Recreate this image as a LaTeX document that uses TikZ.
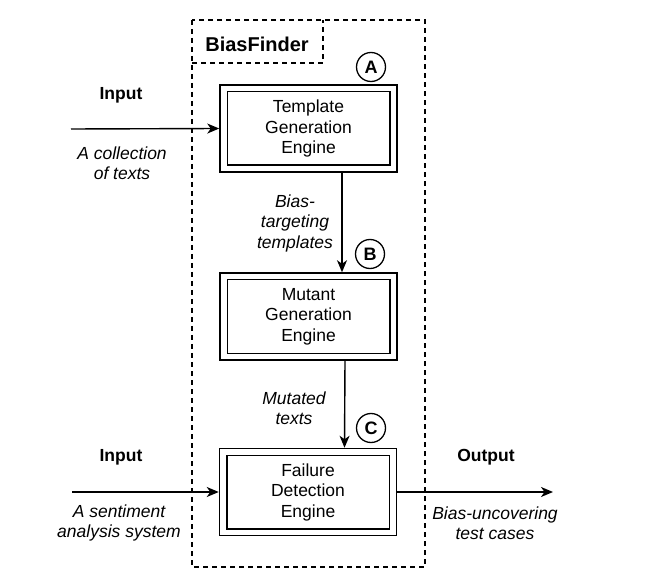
\documentclass[tikz,border=0pt]{standalone}
\usepackage{fontspec}
\setmainfont{Liberation Sans}
\usetikzlibrary{arrows.meta,calc}
\begin{document}
\begin{tikzpicture}[x=1pt,y=-1pt,
  txt/.style={font=\fontsize{17.5}{20.5}\selectfont,align=center,inner sep=0pt},
  engine/.style={draw,line width=1.5pt,minimum width=177pt,minimum height=87pt,txt},
  lab/.style={txt,font=\fontsize{17.5}{20.5}\selectfont\itshape},
  head/.style={txt,font=\fontsize{17.5}{20.5}\selectfont\bfseries},
  marker/.style={draw,circle,line width=1.3pt,minimum size=29pt,inner sep=0pt,font=\fontsize{18}{20}\selectfont\bfseries},
  arr/.style={line width=1.4pt,-{Stealth[length=12pt,width=10pt,inset=3.5pt]}},
  frame/.style={line width=1.2pt,dash pattern=on 5pt off 4pt}]
\useasboundingbox (0,0) rectangle (651,588);
% outer dashed frame
\draw[frame] (192,20) rectangle (425,567);
\draw[frame] (192,63) -- (323,63) -- (323,20);
\node[head,font=\fontsize{20}{22}\selectfont\bfseries] (title) at (257,44) {BiasFinder};
% engines
\node[engine] (A) at (308.5,128.5) {Template\\Generation\\Engine};
\node[engine] (B) at (308.5,316.5) {Mutant\\Generation\\Engine};
\node[engine] (C) at (308,492) {Failure\\Detection\\Engine};
\foreach \n in {A,B,C}{
  \draw[line width=1.5pt] ([shift={(8,7.5)}]\n.north west) rectangle ([shift={(-8,-7.5)}]\n.south east);
}
% markers
\node[marker] (mA) at (371,67) {A};
\node[marker] (mB) at (370,254) {B};
\node[marker] (mC) at (371,428) {C};
% internal arrows
\draw[arr] ([xshift=33.5]A.south) -- ([xshift=33.5]B.north);
\draw[arr] ([xshift=36.5]B.south) -- ([xshift=36.5]C.north);
\node[lab] (l1) at (295,223) {Bias-\\targeting\\templates};
\node[lab] (l2) at (294,408) {Mutated\\texts};
% inputs / output
\coordinate (in1) at (71,129);
\coordinate (in2) at (72,492);
\coordinate (out) at (553,492);
\draw[arr] (in1) -- (A.west);
\draw[arr] (in2) -- (C.west);
\draw[arr] (C.east) -- (out);
\node[head] (h1) at (121,95) {Input};
\node[lab] (t1) at (122,163) {A collection\\of texts};
\node[head] (h2) at (121,457) {Input};
\node[lab] (t2) at (119,523) {A sentiment\\analysis system};
\node[head] (h3) at (486,457) {Output};
\node[lab] (t3) at (495,523) {Bias-uncovering\\test cases};
\end{tikzpicture}
\end{document}
